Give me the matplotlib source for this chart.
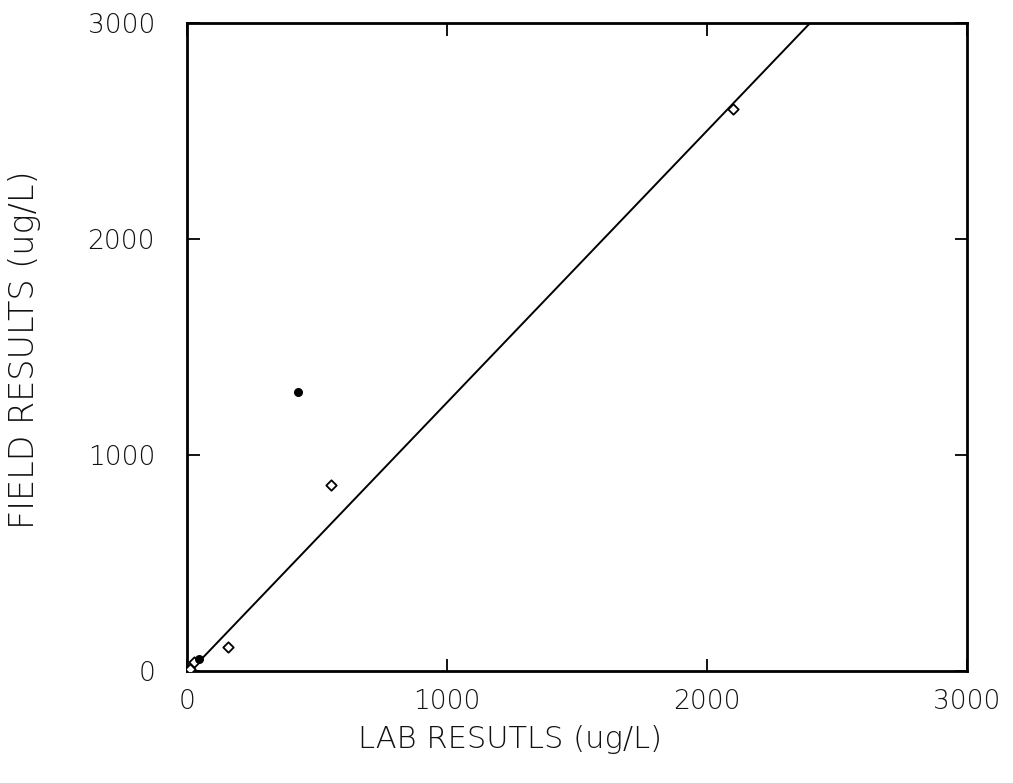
import matplotlib
matplotlib.use("Agg")
import matplotlib.pyplot as plt
import numpy as np

# Data
lab_open = [10, 25, 158, 555, 2100]
field_open = [10, 40, 111, 860, 2600]
lab_filled = [45, 425]
field_filled = [55, 1290]
fit_slope = 1.258
fit_intercept = -15
fit_x = [0, 2400]

x_ticks = [0, 1000, 2000, 3000]
y_ticks = [0, 1000, 2000, 3000]

fig = plt.figure(figsize=(10.13, 7.83), dpi=100)
ax = fig.add_axes([187/1013, 1 - 671/783, (967-187)/1013, (671-23)/783])

fx = np.array(fit_x, dtype=float)
fy = fit_slope * fx + fit_intercept
ax.plot(fx, fy, color="black", lw=1.4, zorder=2)
ax.scatter(lab_open, field_open, marker="D", s=28, facecolors="white",
           edgecolors="black", linewidths=1.3, zorder=3)
ax.scatter(lab_filled, field_filled, marker="o", s=30, color="black", zorder=3)

ax.set_xlim(0, 3000)
ax.set_ylim(0, 3000)
ax.set_xticks(x_ticks)
ax.set_yticks(y_ticks)
ax.tick_params(direction="in", length=9, width=1.3, top=True, right=True,
               labelsize=19, pad=13, labelcolor="#111111")
ax.tick_params(axis="y", pad=23)
for lbl in ax.get_xticklabels() + ax.get_yticklabels():
    lbl.set_fontweight("light")
for s in ax.spines.values():
    s.set_linewidth(2)

ax.set_xlabel("LAB RESUTLS (ug/L)", fontsize=22, fontweight="light", color="#111111")
ax.set_ylabel("FIELD RESULTS (ug/L)", fontsize=24, fontweight="light", color="#111111")
ax.xaxis.set_label_coords((510 - 187) / 780, (671 - 740) / 648)
ax.yaxis.set_label_coords((25 - 187) / 780, (671 - 350) / 648)
ax.xaxis.label.set_va("center")
ax.yaxis.label.set_va("center")

fig.savefig("out.png", dpi=100)
